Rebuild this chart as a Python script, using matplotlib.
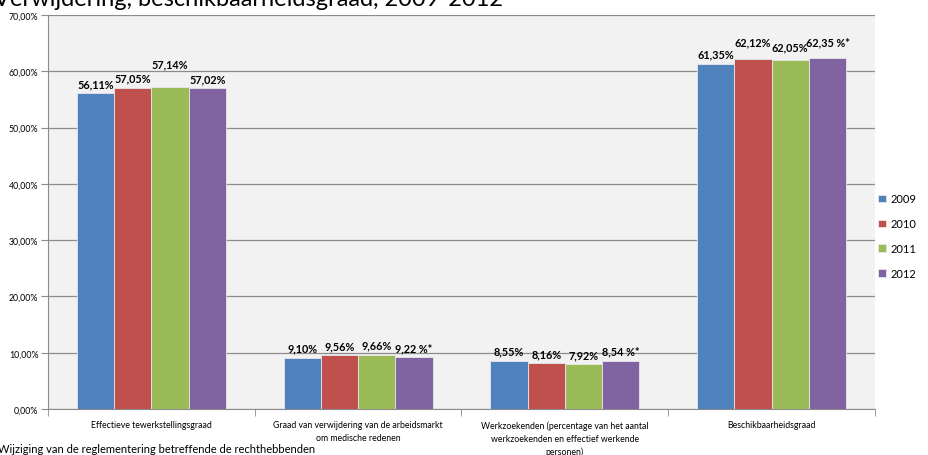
import numpy as np
import matplotlib.pyplot as plt
from matplotlib.ticker import FuncFormatter, FixedLocator

plt.rcParams['font.family'] = ['Lato', 'DejaVu Sans']

categories = ["Effectieve tewerkstellingsgraad",
              "Graad van verwijdering van de arbeidsmarkt\nom medische redenen",
              "Werkzoekenden (percentage van het aantal\nwerkzoekenden en effectief werkende\npersonen)",
              "Beschikbaarheidsgraad"]
years = ["2009", "2010", "2011", "2012"]
v2009 = [56.11, 9.10, 8.55, 61.35]
v2010 = [57.05, 9.56, 8.16, 62.12]
v2011 = [57.14, 9.66, 7.92, 62.05]
v2012 = [57.02, 9.22, 8.54, 62.35]
labels2009 = ["56,11%", "9,10%", "8,55%", "61,35%"]
labels2010 = ["57,05%", "9,56%", "8,16%", "62,12%"]
labels2011 = ["57,14%", "9,66%", "7,92%", "62,05%"]
labels2012 = ["57,02%", "9,22 %*", "8,54 %*", "62,35 %*"]

colors = ["#4F81BD", "#C0504D", "#9BBB59", "#8064A2"]
# extra lift (points) of the data labels, as Excel staggers them
nudge = [[0, 0, 0, 0], [0, 0, 0, 6], [10, 0, 0, 2], [0, 0, 0, 5]]

fig = plt.figure(figsize=(9.29, 4.56), dpi=100)
ax = fig.add_axes([48 / 929, 1 - 410 / 456, 827 / 929, 394 / 456])
ax.set_facecolor("#F2F2F2")

x = np.arange(len(categories))
w = 0.18
series = [v2009, v2010, v2011, v2012]
texts = [labels2009, labels2010, labels2011, labels2012]
for i, (vals, lab) in enumerate(zip(series, texts)):
    pos = x + (i - 1.5) * w
    bars = ax.bar(pos, vals, w, color=colors[i], edgecolor="#E8E8E8", linewidth=0.6,
                  label=years[i], zorder=3)
    for j, b in enumerate(bars):
        ax.annotate(lab[j], (b.get_x() + b.get_width() / 2, b.get_height()),
                    xytext=(0, 3 + nudge[i][j]), textcoords="offset points",
                    ha="center", va="bottom", fontsize=7.8, fontweight="bold", zorder=4)

ax.set_ylim(0, 70)
ax.set_xlim(-0.5, 3.5)
ax.yaxis.set_major_locator(FixedLocator(np.arange(0, 71, 10)))
ax.yaxis.set_major_formatter(FuncFormatter(lambda v, p: f"{v:.2f}%".replace(".", ",")))
ax.grid(axis="y", color="#8C8C8C", linewidth=0.9, zorder=1)
ax.tick_params(axis="y", labelsize=6.3, length=5, color="#8C8C8C", pad=2)

ax.set_xticks(x)
ax.set_xticklabels(categories, fontsize=6.3, linespacing=1.55)
ax.tick_params(axis="x", length=0, pad=8)
ax.set_xticks(np.arange(-0.5, 4, 1), minor=True)
ax.tick_params(axis="x", which="minor", length=5, color="#8C8C8C")

for s in ["top", "right"]:
    ax.spines[s].set_visible(False)
ax.spines["left"].set_color("#8C8C8C")
ax.spines["bottom"].set_color("#8C8C8C")

leg = fig.legend(loc="upper left", bbox_to_anchor=(874 / 929, 1 - 190 / 456), frameon=False,
                 fontsize=8, handlelength=0.7, handleheight=0.7, handletextpad=0.4,
                 labelspacing=1.25, borderaxespad=0)

fig.text(-0.006, 1 - 6 / 456, "Verwijdering, beschikbaarheidsgraad, 2009-2012",
         fontsize=17, va="baseline", ha="left")
fig.text(-0.002, 1 - 453 / 456, "Wijziging van de reglementering betreffende de rechthebbenden",
         fontsize=8, va="baseline", ha="left")

fig.savefig("out.png", dpi=100)
